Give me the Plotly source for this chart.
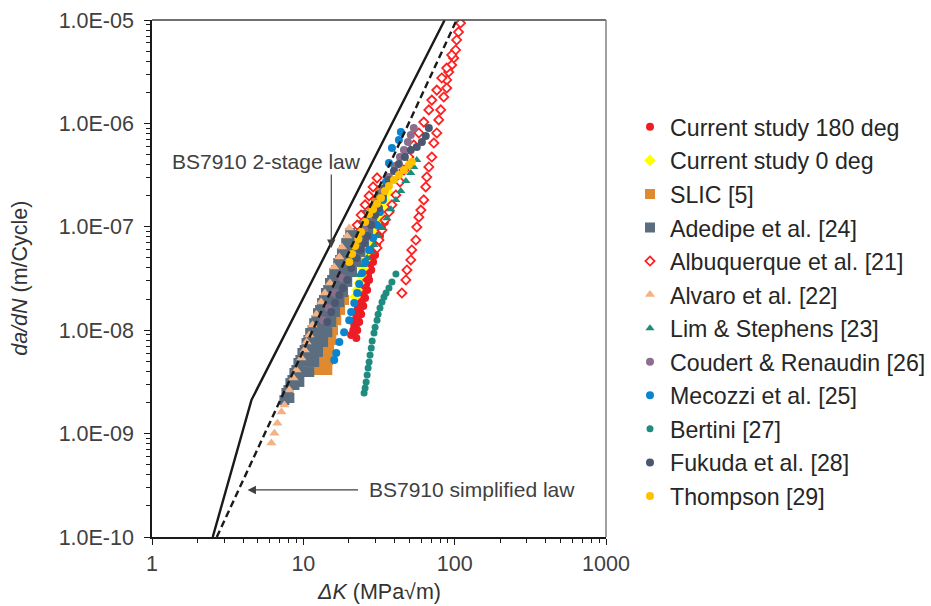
import plotly.graph_objects as go
import math

# ---------------- data (ΔK in MPa√m, da/dN in m/cycle) ----------------
cs180_dk = [20.7, 21.4, 21.7, 22.0, 22.4, 22.7, 23.1, 23.4, 23.8, 24.1, 24.5, 24.9, 25.2, 25.6, 26.4,
            26.8, 27.6, 28.5, 29.3, 30.2, 31.6, 33.1, 34.6,
            22.4, 22.7, 23.4, 24.1, 24.9, 25.6, 26.4, 27.2, 28.1, 28.9, 29.8,
            21.7, 22.4, 23.1, 23.8, 24.5, 25.2, 26.0, 26.8, 27.6, 28.5, 29.3, 30.7, 32.1]
cs180_da = [8.99e-9, 1.00e-8, 1.12e-8, 1.25e-8, 1.40e-8, 1.57e-8, 1.75e-8, 1.96e-8, 2.19e-8, 2.45e-8,
            2.74e-8, 3.06e-8, 3.42e-8, 3.82e-8, 4.27e-8, 4.78e-8, 5.34e-8, 5.97e-8, 6.67e-8, 7.45e-8,
            8.33e-8, 9.73e-8, 1.11e-7,
            8.41e-9, 1.00e-8, 1.20e-8, 1.43e-8, 1.71e-8, 2.05e-8, 2.45e-8, 3.06e-8, 3.82e-8, 4.57e-8, 5.34e-8,
            9.56e-9, 1.15e-8, 1.37e-8, 1.64e-8, 1.96e-8, 2.34e-8, 2.80e-8, 3.34e-8, 3.99e-8, 4.78e-8,
            5.71e-8, 6.82e-8, 8.15e-8]

cs0_dk = [22.0, 22.7, 23.4, 24.1, 24.9, 25.6, 26.4, 27.2, 28.1, 28.9, 30.2, 31.6, 33.1, 34.6, 36.2]
cs0_da = [2.10e-8, 2.45e-8, 2.86e-8, 3.42e-8, 3.99e-8, 4.78e-8, 5.71e-8, 6.67e-8, 7.79e-8, 9.31e-8,
          1.11e-7, 1.30e-7, 1.56e-7, 1.82e-7, 2.17e-7]

slic_dk = [12.7, 12.9, 13.1, 13.5, 14.1, 15.0, 16.0, 17.0, 18.0, 19.2, 20.1, 21.0, 22.4, 23.8, 25.2,
           26.8, 28.5, 30.2, 32.1,
           14.4, 14.6, 14.8, 15.3, 15.7, 16.5, 17.5, 18.6, 13.5, 13.7, 14.1]
slic_da = [4.12e-9, 5.15e-9, 6.44e-9, 8.04e-9, 1.00e-8, 1.25e-8, 1.57e-8, 1.96e-8, 2.45e-8, 3.06e-8,
           3.82e-8, 4.78e-8, 5.97e-8, 7.45e-8, 9.31e-8, 1.16e-7, 1.45e-7, 1.82e-7, 2.27e-7,
           4.12e-9, 5.15e-9, 6.44e-9, 8.04e-9, 1.00e-8, 1.25e-8, 1.57e-8, 1.96e-8, 4.61e-9, 5.76e-9, 7.19e-9]

adedipe_dk = [7.50, 7.97, 8.47, 9.00, 9.56, 10.2, 10.8, 11.5, 12.2, 12.9, 13.7, 14.6, 15.5, 16.5, 17.5, 18.6, 19.8,
              8.09, 8.73, 9.71, 10.5, 11.1, 12.0, 12.7, 13.5, 14.4, 15.3, 16.5, 17.5, 18.6, 20.1, 21.4, 22.7, 24.1,
              10.95, 11.8, 12.5, 13.5, 14.4, 15.3, 16.2, 17.3, 18.3, 19.5, 21.0, 22.4, 23.8, 25.2, 26.8, 28.5, 30.7, 33.1,
              11.5, 12.4, 13.1, 13.9, 14.8, 15.7, 16.7, 18.0, 19.2, 20.4, 21.7, 23.4,
              7.73, 8.21, 8.73, 9.28, 9.86, 10.5, 11.1, 11.8, 12.5, 13.3, 14.1, 15.0, 16.0, 17.0, 18.0, 19.2, 20.4,
              9.41, 10.0, 10.8, 11.5, 12.4, 13.1, 13.9, 14.8, 15.7, 17.0, 18.0, 19.5, 20.7, 22.0, 23.4, 24.9, 26.4]
adedipe_da = [2.11e-9, 2.64e-9, 3.30e-9, 4.12e-9, 5.15e-9, 6.44e-9, 8.04e-9, 1.00e-8, 1.25e-8, 1.57e-8, 1.96e-8,
              2.45e-8, 3.06e-8, 3.82e-8, 4.78e-8, 5.97e-8, 7.45e-8,
              2.21e-9, 2.95e-9, 3.94e-9, 4.93e-9, 6.44e-9, 8.04e-9, 1.00e-8, 1.25e-8, 1.57e-8, 1.96e-8, 2.45e-8,
              3.06e-8, 3.82e-8, 4.78e-8, 5.97e-8, 7.45e-8, 9.31e-8,
              3.94e-9, 4.93e-9, 6.16e-9, 7.69e-9, 9.56e-9, 1.20e-8, 1.50e-8, 1.87e-8, 2.34e-8, 2.93e-8, 3.65e-8,
              4.57e-8, 5.71e-8, 7.12e-8, 8.90e-8, 1.11e-7, 1.45e-7, 2.03e-7,
              5.63e-9, 7.03e-9, 8.79e-9, 1.10e-8, 1.37e-8, 1.71e-8, 2.14e-8, 2.68e-8, 3.34e-8, 4.18e-8, 5.22e-8, 6.52e-8,
              2.47e-9, 3.08e-9, 3.86e-9, 4.82e-9, 6.02e-9, 7.52e-9, 9.40e-9, 1.17e-8, 1.46e-8, 1.83e-8, 2.29e-8,
              2.86e-8, 3.58e-8, 4.46e-8, 5.58e-8, 6.97e-8, 8.71e-8,
              3.16e-9, 3.94e-9, 5.38e-9, 7.03e-9, 8.99e-9, 1.12e-8, 1.40e-8, 1.75e-8, 2.19e-8, 2.74e-8, 3.42e-8,
              4.27e-8, 5.34e-8, 6.67e-8, 8.33e-8, 1.04e-7, 1.30e-7]

albu_dk = [109.3, 106, 103.1, 101.5, 98.5, 95.6, 91.3, 88.6, 88.6, 84.7, 80.9, 78.5, 76.2, 72.8, 70.6, 67.5,
           65.4, 64.4, 62.5, 59.8, 58.0, 56.2, 55.4, 52.1, 51.3, 48.4, 47.6, 44.8,
           95.6, 88.6, 82.2, 76.2, 70.6, 67.5, 62.5, 58.0, 53.7, 49.8, 46.2, 43.5, 40.9, 38.5, 36.8, 34.6,
           33.1, 31.6, 30.7,
           22.7, 24.1, 25.6, 27.2, 28.9, 30.7]
albu_da = [9.35e-6, 7.65e-6, 6.41e-6, 5.13e-6, 4.29e-6, 3.67e-6, 3.14e-6, 2.63e-6, 2.20e-6, 1.80e-6, 1.35e-6,
           1.08e-6, 8.08e-7, 6.46e-7, 4.73e-7, 3.79e-7, 3.03e-7, 2.43e-7, 1.82e-7, 1.45e-7, 1.24e-7, 9.95e-8,
           7.45e-8, 5.97e-8, 4.78e-8, 3.82e-8, 3.06e-8, 2.29e-8,
           4.59e-6, 3.43e-6, 2.75e-6, 2.10e-6, 1.68e-6, 1.35e-6, 1.03e-6, 8.08e-7, 6.18e-7, 4.73e-7, 3.54e-7,
           2.72e-7, 2.03e-7, 1.63e-7, 1.39e-7, 1.16e-7, 9.31e-8, 7.45e-8, 6.24e-8,
           1.04e-7, 1.30e-7, 1.63e-7, 1.99e-7, 2.43e-7, 2.97e-7]

alvaro_dk = [6.15, 6.44, 6.74, 7.17, 7.50, 8.09, 8.60, 9.00, 9.71, 10.2, 10.5, 10.95, 11.5, 12.2, 13.1, 13.9,
             15.0, 16.0, 17.3, 18.0, 19.5, 20.1]
alvaro_da = [8.11e-10, 1.01e-9, 1.26e-9, 1.62e-9, 1.89e-9, 2.64e-9, 3.45e-9, 4.12e-9, 5.38e-9, 6.44e-9, 7.69e-9,
             8.99e-9, 1.12e-8, 1.43e-8, 1.87e-8, 2.29e-8, 2.86e-8, 4.08e-8, 5.11e-8, 6.38e-8, 8.15e-8, 9.73e-8]

lim_dk = [56.2, 53.7, 51.3, 47.6, 44.1, 40.9, 37.9, 35.7, 33.1, 31.2, 29.3, 28.1, 26.4, 24.9, 23.4]
lim_da = [4.43e-7, 3.79e-7, 3.31e-7, 2.78e-7, 2.22e-7, 1.82e-7, 1.48e-7, 1.21e-7, 9.73e-8, 8.15e-8, 6.67e-8,
          5.71e-8, 5.00e-8, 4.27e-8, 3.42e-8]

coud_dk = [53.7, 51.3, 49.1, 46.2, 43.5, 40.3, 36.8, 33.6, 30.7, 28.1, 25.2, 22.7, 20.1, 18.0, 16.2, 14.6, 13.5]
coud_da = [9.03e-7, 7.73e-7, 6.61e-7, 5.53e-7, 4.73e-7, 3.87e-7, 3.03e-7, 2.27e-7, 1.70e-7, 1.30e-7, 9.31e-8,
           6.67e-8, 4.57e-8, 3.20e-8, 2.29e-8, 1.64e-8, 1.25e-8]

meco_dk = [16.0, 16.5, 17.3, 18.6, 20.1, 20.7, 21.7, 22.7, 23.4, 24.5, 25.6, 27.2, 28.9, 30.7, 32.1, 33.6,
           35.2, 36.8, 38.5, 42.8, 44.1]
meco_da = [5.15e-9, 6.02e-9, 7.69e-9, 9.56e-9, 1.25e-8, 1.50e-8, 1.83e-8, 2.29e-8, 2.80e-8, 3.58e-8, 4.57e-8,
           5.97e-8, 7.79e-8, 1.04e-7, 1.39e-7, 1.82e-7, 2.72e-7, 4.14e-7, 5.78e-7, 6.91e-7, 8.26e-7]

bert_dk = [25.2, 25.6, 26.0, 26.4, 26.8, 27.2, 27.6, 28.1, 28.5, 29.3, 29.8, 30.7, 31.2, 32.1, 33.1, 34.1,
           35.2, 36.8, 38.5, 40.9]
bert_da = [2.47e-9, 2.76e-9, 3.16e-9, 3.69e-9, 4.31e-9, 4.93e-9, 5.76e-9, 6.73e-9, 7.86e-9, 9.40e-9, 1.07e-8,
           1.25e-8, 1.43e-8, 1.64e-8, 1.87e-8, 2.10e-8, 2.29e-8, 2.56e-8, 2.93e-8, 3.50e-8]

fuku_dk = [14.4, 15.3, 16.2, 17.3, 18.3, 19.5, 20.7, 22.4, 23.8, 25.2, 26.4, 28.1, 29.8, 31.6, 33.1, 34.6,
           36.8, 39.7, 42.8, 46.9, 51.3, 56.2, 60.7, 64.4, 67.5]
fuku_da = [1.20e-8, 1.50e-8, 1.83e-8, 2.19e-8, 2.56e-8, 3.06e-8, 3.99e-8, 5.00e-8, 5.97e-8, 6.97e-8, 8.15e-8,
           1.04e-7, 1.30e-7, 1.52e-7, 1.90e-7, 2.37e-7, 2.84e-7, 3.46e-7, 4.05e-7, 4.73e-7, 5.53e-7, 5.91e-7,
           6.61e-7, 7.56e-7, 9.03e-7]

thom_dk = [20.1, 21.0, 22.0, 23.1, 24.1, 25.6, 27.2, 28.9, 30.7, 32.6, 34.6, 36.8, 39.7, 42.8, 46.2, 49.8, 52.1]
thom_da = [4.57e-8, 5.46e-8, 6.52e-8, 7.62e-8, 8.90e-8, 1.11e-7, 1.33e-7, 1.48e-7, 1.67e-7, 1.90e-7, 2.22e-7,
           2.48e-7, 2.84e-7, 3.17e-7, 3.54e-7, 3.96e-7, 4.24e-7]

# BS7910 laws
bs2_dk = [2.52, 4.54, 85.9]
bs2_da = [1.0e-10, 2.11e-9, 1.0e-5]
bss_dk = [2.68, 103.0]
bss_da = [1.0e-10, 1.0e-5]

ytick_vals = [1e-10, 1e-9, 1e-8, 1e-7, 1e-6, 1e-5]
ytick_text = ["1.0E-10", "1.0E-09", "1.0E-08", "1.0E-07", "1.0E-06", "1.0E-05"]
xtick_vals = [1, 10, 100, 1000]
xtick_text = ["1", "10", "100", "1000"]

FONT = "Liberation Sans, Arial, sans-serif"

fig = go.Figure()

def add(name, dk, da, symbol, color, size, lcolor=None, lwidth=0):
    fig.add_trace(go.Scatter(
        x=dk, y=da, mode="markers", name=name, legendgroup=name,
        marker=dict(symbol=symbol, color=color, size=size,
                    line=dict(color=lcolor if lcolor else color, width=lwidth)),
    ))

add("Current study 180 deg", cs180_dk, cs180_da, "circle", "#EE1C25", 8)
add("Current study 0 deg", cs0_dk, cs0_da, "diamond", "#FFFF00", 9)
add("SLIC [5]", slic_dk, slic_da, "square", "#E08A30", 10)
add("Adedipe et al. [24]", adedipe_dk, adedipe_da, "square", "#5B6E80", 10)
add("Albuquerque et al. [21]", albu_dk, albu_da, "diamond", "#FFFFFF", 7, "#FF2020", 1.8)
add("Alvaro et al. [22]", alvaro_dk, alvaro_da, "triangle-up", "#F4B183", 9)
add("Lim &amp; Stephens [23]", lim_dk, lim_da, "triangle-up", "#1E8C78", 8)
add("Coudert &amp; Renaudin [26]", coud_dk, coud_da, "circle", "#8B6E8E", 8)
add("Mecozzi et al. [25]", meco_dk, meco_da, "circle", "#0A84CF", 8)
add("Bertini [27]", bert_dk, bert_da, "circle", "#1E8C7E", 7)
add("Fukuda et al. [28]", fuku_dk, fuku_da, "circle", "#4B5670", 8)
add("Thompson [29]", thom_dk, thom_da, "circle", "#FFC000", 8)

fig.add_trace(go.Scatter(x=bs2_dk, y=bs2_da, mode="lines", showlegend=False,
                         line=dict(color="#1a1a1a", width=2.4)))
fig.add_trace(go.Scatter(x=bss_dk, y=bss_da, mode="lines", showlegend=False,
                         line=dict(color="#1a1a1a", width=2.4, dash="7px,4px")))

axis_common = dict(type="log", showgrid=False, zeroline=False, showline=True, automargin=False,
                   linecolor="#1a1a1a", linewidth=1.5, ticks="outside", ticklen=6,
                   tickwidth=1.2, tickcolor="#1a1a1a",
                   tickfont=dict(family=FONT, size=21.5, color="#404040"),
                   minor=dict(ticks="outside", ticklen=4, tickwidth=1, tickcolor="#1a1a1a",
                              dtick="D1", showgrid=False))

YTOP = 517 / 537  # plot top inside the paper area (20 px below the page top)

fig.update_layout(
    template="none",
    width=931, height=606,
    margin=dict(l=152, r=325, t=0, b=69),
    paper_bgcolor="white", plot_bgcolor="white",
    font=dict(family=FONT, size=21, color="#333333"),
    xaxis=dict(axis_common, range=[0, 3], tickvals=xtick_vals, ticktext=xtick_text,
               ticklabelstandoff=0),
    yaxis=dict(axis_common, range=[-10, -5], tickvals=ytick_vals, ticktext=ytick_text,
               ticklabelstandoff=6, domain=[0, YTOP]),
    xaxis2=dict(type="log", overlaying="x", range=[0, 3], anchor="y", side="bottom",
                automargin=False,
                ticks="inside", ticklen=5, tickwidth=1.2, tickcolor="#1a1a1a",
                tickvals=xtick_vals, showticklabels=False, showline=False, showgrid=False,
                zeroline=False),
    yaxis2=dict(type="log", overlaying="y", range=[-10, -5], anchor="x", side="left",
                automargin=False, domain=[0, YTOP],
                ticks="inside", ticklen=5, tickwidth=1.2, tickcolor="#1a1a1a",
                tickvals=ytick_vals, showticklabels=False, showline=False, showgrid=False,
                zeroline=False),
    showlegend=True,
    legend=dict(x=(931 - 152) / 454, xanchor="right", y=0.8041, yanchor="top",
                font=dict(family=FONT, size=23.2, color="#262626"),
                bgcolor="rgba(0,0,0,0)", tracegroupgap=0.4, traceorder="grouped",
                itemwidth=30, borderwidth=0),
    shapes=[
        dict(type="line", xref="paper", yref="paper", x0=0, x1=1, y0=YTOP, y1=YTOP,
             line=dict(color="#404040", width=1.5)),
        dict(type="line", xref="paper", yref="paper", x0=1, x1=1, y0=0, y1=YTOP,
             line=dict(color="#808080", width=1.5)),
    ],
    annotations=[
        dict(xref="paper", yref="paper", x=0.5, y=-0.102, xanchor="center", yanchor="middle",
             showarrow=False, text="<i>ΔK</i> (MPa√m)",
             font=dict(family=FONT, size=21.5, color="#333333")),
        dict(xref="paper", yref="paper", x=-0.29, y=0.4814, xanchor="center", yanchor="middle",
             textangle=-90, showarrow=False, text="<i>da/dN</i> (m/Cycle)",
             font=dict(family=FONT, size=21.5, color="#333333")),
        dict(x=math.log10(5.67), y=math.log10(4.24e-7), showarrow=False,
             text="BS7910 2-stage law", font=dict(family=FONT, size=21, color="#404040")),
        dict(x=math.log10(15.3), y=math.log10(6.24e-8), ax=0, ay=-75, text="",
             showarrow=True, arrowhead=2, arrowsize=1.4, arrowwidth=1.2, arrowcolor="#404040"),
        dict(x=math.log10(26.4), y=math.log10(2.85e-10), xanchor="left", showarrow=False,
             text="BS7910 simplified law", font=dict(family=FONT, size=21, color="#404040")),
        dict(x=math.log10(4.28), y=math.log10(2.85e-10), ax=112, ay=0, text="",
             showarrow=True, arrowhead=2, arrowsize=1.4, arrowwidth=1.2, arrowcolor="#404040"),
    ],
)

fig.write_html("out.html")
